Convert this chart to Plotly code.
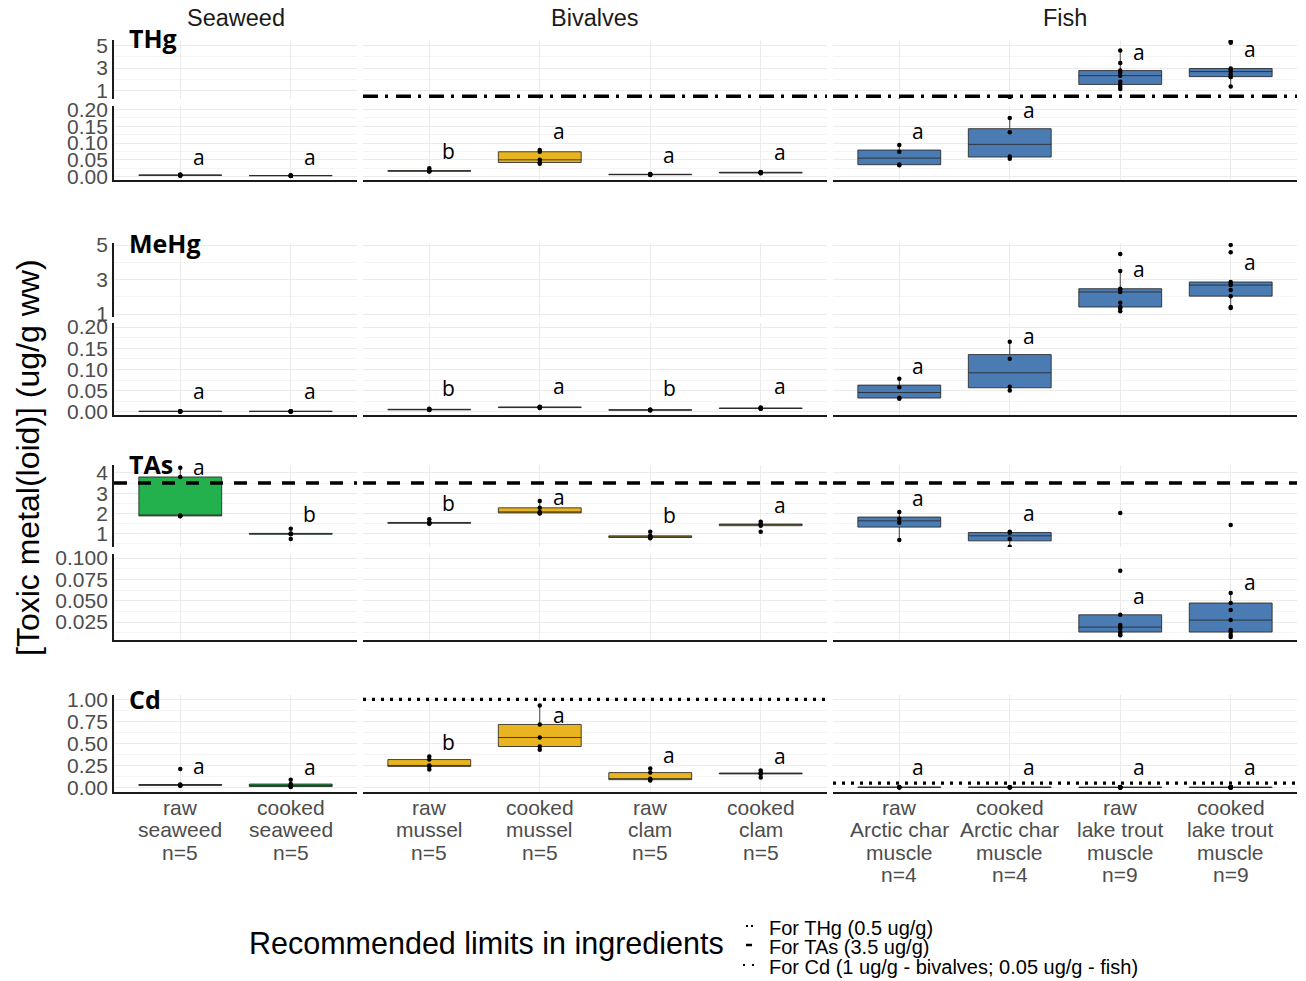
import numpy as np
import plotly.graph_objects as go

# ---------------- data ----------------
column_titles = ["Seaweed", "Bivalves", "Fish"]
column_sizes = [2, 4, 4]
category_labels = [
    ["raw", "seaweed", "n=5"],
    ["cooked", "seaweed", "n=5"],
    ["raw", "mussel", "n=5"],
    ["cooked", "mussel", "n=5"],
    ["raw", "clam", "n=5"],
    ["cooked", "clam", "n=5"],
    ["raw", "Arctic char", "muscle", "n=4"],
    ["cooked", "Arctic char", "muscle", "n=4"],
    ["raw", "lake trout", "muscle", "n=9"],
    ["cooked", "lake trout", "muscle", "n=9"],
]
metal_names = ["THg", "MeHg", "TAs", "Cd"]

thg_points = [
    [0.003, 0.004, 0.004, 0.005, 0.006],
    [0.002, 0.003, 0.003, 0.003, 0.004],
    [0.015, 0.016, 0.017, 0.018, 0.025],
    [0.038, 0.042, 0.050, 0.074, 0.079],
    [0.005, 0.006, 0.006, 0.007, 0.008],
    [0.010, 0.011, 0.012, 0.013, 0.014],
    [0.034, 0.036, 0.074, 0.094],
    [0.053, 0.060, 0.132, 0.174],
    [1.15, 1.35, 1.55, 1.80, 2.33, 2.60, 2.78, 3.45, 4.55],
    [1.36, 2.20, 2.24, 2.45, 2.69, 2.85, 2.96, 5.25, 5.36],
]
mehg_points = [
    [0.0008, 0.001, 0.001, 0.0012, 0.0015],
    [0.0008, 0.001, 0.001, 0.0012, 0.0014],
    [0.004, 0.005, 0.005, 0.006, 0.007],
    [0.009, 0.010, 0.011, 0.011, 0.012],
    [0.003, 0.004, 0.004, 0.005, 0.005],
    [0.007, 0.008, 0.008, 0.009, 0.010],
    [0.031, 0.033, 0.058, 0.078],
    [0.050, 0.059, 0.125, 0.165],
    [1.17, 1.32, 1.41, 1.65, 2.28, 2.42, 2.47, 3.49, 4.48],
    [1.35, 1.41, 2.04, 2.39, 2.68, 2.80, 2.86, 4.59, 5.00],
]
tas_points = [
    [1.86, 1.88, 1.90, 3.80, 4.25],
    [0.75, 0.98, 1.00, 1.02, 1.25],
    [1.50, 1.52, 1.54, 1.56, 1.72],
    [2.00, 2.03, 2.08, 2.28, 2.62],
    [0.78, 0.82, 0.85, 0.90, 1.10],
    [1.10, 1.40, 1.45, 1.48, 1.60],
    [0.70, 1.54, 1.74, 2.08],
    [0.36, 0.75, 1.05, 1.10],
    [0.0095, 0.011, 0.0133, 0.0175, 0.0191, 0.0215, 0.0335, 0.085, 2.03],
    [0.0074, 0.0098, 0.0133, 0.0156, 0.0273, 0.039, 0.0473, 0.059, 1.44],
]
cd_points = [
    [0.020, 0.025, 0.030, 0.035, 0.210],
    [0.008, 0.012, 0.020, 0.040, 0.090],
    [0.205, 0.240, 0.250, 0.318, 0.352],
    [0.430, 0.466, 0.568, 0.716, 0.930],
    [0.080, 0.090, 0.100, 0.170, 0.216],
    [0.114, 0.155, 0.160, 0.165, 0.195],
    [0.002, 0.003, 0.004, 0.006],
    [0.002, 0.003, 0.004, 0.005],
    [0.001, 0.002, 0.002, 0.003, 0.003, 0.004, 0.004, 0.005, 0.006],
    [0.001, 0.002, 0.002, 0.003, 0.003, 0.003, 0.004, 0.005, 0.006],
]

thg_letters = ["a", "a", "b", "a", "a", "a", "a", "a", "a", "a"]
thg_letter_y = [0.059, 0.059, 0.076, 0.135, 0.065, 0.074, 0.135, 0.197, 4.47, 4.73]
mehg_letters = ["a", "a", "b", "a", "b", "a", "a", "a", "a", "a"]
mehg_letter_y = [0.048, 0.048, 0.057, 0.060, 0.057, 0.060, 0.109, 0.179, 3.61, 4.01]
tas_letters = ["a", "b", "b", "a", "b", "a", "a", "a", "a", "a"]
tas_letter_y = [4.30, 1.98, 2.52, 2.82, 1.93, 2.43, 2.77, 2.03, 0.0555, 0.0719]
cd_letters = ["a", "a", "b", "a", "a", "a", "a", "a", "a", "a"]
cd_letter_y = [0.24, 0.23, 0.52, 0.82, 0.375, 0.36, 0.23, 0.23, 0.23, 0.23]

thg_limit = 0.5
tas_limit = 3.5
cd_limit_bivalves = 1.0
cd_limit_fish = 0.05

legend_title = "Recommended limits in ingredients"
legend_labels = ["For THg (0.5 ug/g)", "For TAs (3.5 ug/g)",
                 "For Cd (1 ug/g - bivalves; 0.05 ug/g - fish)"]
y_title = "[Toxic metal(loid)] (ug/g ww)"

hg_upper_ticks = [1, 3, 5]
hg_upper_labels = ["1", "3", "5"]
hg_upper_minor = [2, 4]
hg_lower_ticks = [0, 0.05, 0.10, 0.15, 0.20]
hg_lower_labels = ["0.00", "0.05", "0.10", "0.15", "0.20"]
hg_lower_minor = [0.025, 0.075, 0.125, 0.175]
tas_upper_ticks = [1, 2, 3, 4]
tas_upper_labels = ["1", "2", "3", "4"]
tas_upper_minor = [0.5, 1.5, 2.5, 3.5]
tas_lower_ticks = [0.025, 0.05, 0.075, 0.10]
tas_lower_labels = ["0.025", "0.050", "0.075", "0.100"]
tas_lower_minor = [0.0125, 0.0375, 0.0625, 0.0875]
cd_ticks = [0, 0.25, 0.5, 0.75, 1.0]
cd_labels = ["0.00", "0.25", "0.50", "0.75", "1.00"]
cd_minor = [0.125, 0.375, 0.625, 0.875]

# ---------------- styling / layout ----------------
W, H = 1306, 981
TICK_FONT = "Liberation Sans, Arial, sans-serif"
LETTER_FONT = "Open Sans, sans-serif"
GRID = "#EBEBEB"
GRID_MINOR = "#F4F4F4"
AXIS = "#1A1A1A"
col_colors = ["#22B14C", "#EAB420", "#4A7CB3"]
col_px = [(114, 357), (363, 827), (833, 1297)]

panels = [
    dict(metal=0, top=40, bot=99, rng=[0.26, 5.49], ticks=hg_upper_ticks,
         labels=hg_upper_labels, minor=hg_upper_minor, base=False),
    dict(metal=0, top=106, bot=180, rng=[-0.01, 0.21], ticks=hg_lower_ticks,
         labels=hg_lower_labels, minor=hg_lower_minor, base=True),
    dict(metal=1, top=243, bot=317, rng=[0.83, 5.12], ticks=hg_upper_ticks,
         labels=hg_upper_labels, minor=hg_upper_minor, base=False),
    dict(metal=1, top=323, bot=415, rng=[-0.0075, 0.2095], ticks=hg_lower_ticks,
         labels=hg_lower_labels, minor=hg_lower_minor, base=True),
    dict(metal=2, top=465, bot=547, rng=[0.35, 4.39], ticks=tas_upper_ticks,
         labels=tas_upper_labels, minor=tas_upper_minor, base=False),
    dict(metal=2, top=554, bot=640, rng=[0.004, 0.1047], ticks=tas_lower_ticks,
         labels=tas_lower_labels, minor=tas_lower_minor, base=True),
    dict(metal=3, top=695, bot=792, rng=[-0.05, 1.05], ticks=cd_ticks,
         labels=cd_labels, minor=cd_minor, base=True),
]

metal_points = [thg_points, mehg_points, tas_points, cd_points]
metal_letters = [thg_letters, mehg_letters, tas_letters, cd_letters]
metal_letter_y = [thg_letter_y, mehg_letter_y, tas_letter_y, cd_letter_y]
metal_limits = {
    0: [None, thg_limit, thg_limit],
    2: [tas_limit, tas_limit, tas_limit],
    3: [None, cd_limit_bivalves, cd_limit_fish],
}
limit_dash = {0: "15px,7px,3px,8px", 2: "13px,11px", 3: "3px,6px"}
limit_width = {0: 3.5, 2: 3.5, 3: 3.2}
row_label_y = [38, 243.5, 464, 698.5]


def box_stats(v):
    a = np.sort(np.asarray(v, dtype=float))
    q1, med, q3 = np.percentile(a, [25, 50, 75])
    iqr = q3 - q1
    lo = a[a >= q1 - 1.5 * iqr].min()
    hi = a[a <= q3 + 1.5 * iqr].max()
    return q1, med, q3, lo, hi


def col_of(gi):
    start = 0
    for c, n in enumerate(column_sizes):
        if gi < start + n:
            return c, gi - start + 1
        start += n


def ax_names(k):
    return ("x" if k == 1 else f"x{k}", "y" if k == 1 else f"y{k}",
            "xaxis" if k == 1 else f"xaxis{k}", "yaxis" if k == 1 else f"yaxis{k}")


fig = go.Figure()
layout_axes = {}
shapes = []
annotations = []

for pi, p in enumerate(panels):
    for c in range(3):
        k = pi * 3 + c + 1
        xa, ya, xn, yn = ax_names(k)
        n = column_sizes[c]
        x0, x1 = col_px[c]
        layout_axes[xn] = dict(
            domain=[x0 / W, x1 / W], range=[0.4, n + 0.6], anchor=ya,
            tickmode="array", tickvals=list(range(1, n + 1)), showticklabels=False,
            showgrid=True, gridcolor=GRID, gridwidth=1, zeroline=False,
            showline=p["base"], linecolor=AXIS, linewidth=1.8, ticks="", fixedrange=True)
        layout_axes[yn] = dict(
            domain=[1 - p["bot"] / H, 1 - p["top"] / H], range=p["rng"], anchor=xa,
            tickmode="array", tickvals=p["ticks"], ticktext=p["labels"],
            showticklabels=(c == 0),
            tickfont=dict(family=TICK_FONT, size=21, color="#4D4D4D"),
            showgrid=True, gridcolor=GRID, gridwidth=1,
            minor=dict(tickvals=p["minor"], showgrid=True, gridcolor=GRID_MINOR,
                       gridwidth=0.8, ticks=""),
            zeroline=False, showline=(c == 0), linecolor=AXIS, linewidth=1.8,
            ticks="", ticklabelstandoff=0, fixedrange=True)

        start = sum(column_sizes[:c])
        for j in range(n):
            gi = start + j
            vals = metal_points[p["metal"]][gi]
            q1, med, q3, lo, hi = box_stats(vals)
            fig.add_trace(go.Box(
                x=[j + 1], q1=[q1], median=[med], q3=[q3], lowerfence=[lo],
                upperfence=[hi], width=0.75, orientation="v",
                fillcolor=col_colors[c], line=dict(color="rgba(40,40,40,0.85)", width=1),
                whiskerwidth=0, boxpoints=False, xaxis=xa, yaxis=ya,
                showlegend=False, hoverinfo="skip"))
            fig.add_trace(go.Scatter(
                x=[j + 1] * len(vals), y=vals, mode="markers",
                marker=dict(size=4.5, color="black"), cliponaxis=True,
                xaxis=xa, yaxis=ya, showlegend=False, hoverinfo="skip"))

        lim = metal_limits.get(p["metal"])
        if lim is not None and lim[c] is not None and p["rng"][0] <= lim[c] <= p["rng"][1]:
            shapes.append(dict(
                type="line", xref=f"{xa} domain", x0=0, x1=1, yref=ya,
                y0=lim[c], y1=lim[c],
                line=dict(color="black", width=limit_width[p["metal"]],
                          dash=limit_dash[p["metal"]])))

# letters
for m in range(4):
    mpanels = [pi for pi, p in enumerate(panels) if p["metal"] == m]
    for gi in range(10):
        c, j = col_of(gi)
        yv = metal_letter_y[m][gi]
        pi = mpanels[0]
        if len(mpanels) > 1 and yv < panels[mpanels[0]]["rng"][0]:
            pi = mpanels[1]
        xa, ya, _, _ = ax_names(pi * 3 + c + 1)
        annotations.append(dict(
            text=metal_letters[m][gi], x=j + 0.17, y=yv, xref=xa, yref=ya,
            showarrow=False, xanchor="center", yanchor="middle",
            font=dict(family=LETTER_FONT, size=21, color="black")))

# category labels (one annotation per line, below the Cd panel)
label_line_px = [807, 829.5, 852, 874.5]
for gi in range(10):
    c, j = col_of(gi)
    xa, _, _, _ = ax_names(6 * 3 + c + 1)
    for li, line in enumerate(category_labels[gi]):
        annotations.append(dict(
            text=line, x=j, y=1 - label_line_px[li] / H, xref=xa, yref="paper",
            showarrow=False, xanchor="center", yanchor="middle",
            font=dict(family=TICK_FONT, size=21, color="#4D4D4D")))

# column strip titles
for c, t in enumerate(column_titles):
    x0, x1 = col_px[c]
    annotations.append(dict(
        text=t, x=(x0 + x1) / 2 / W, y=1 - 18 / H, xref="paper", yref="paper",
        showarrow=False, xanchor="center", yanchor="middle",
        font=dict(family=TICK_FONT, size=23.5, color="#1A1A1A")))

# metal row labels
for m, name in enumerate(metal_names):
    annotations.append(dict(
        text=f"<b>{name}</b>", x=127 / W, y=1 - row_label_y[m] / H,
        xref="paper", yref="paper", showarrow=False, xanchor="left", yanchor="middle",
        font=dict(family=LETTER_FONT, size=25, color="black")))

# y title
annotations.append(dict(
    text=y_title, x=28 / W, y=1 - 458 / H, xref="paper", yref="paper",
    showarrow=False, textangle=-90, xanchor="center", yanchor="middle",
    font=dict(family=TICK_FONT, size=32, color="black")))

# legend
annotations.append(dict(
    text=legend_title, x=487 / W, y=1 - 943 / H, xref="paper", yref="paper",
    showarrow=False, xanchor="center", yanchor="middle",
    font=dict(family=TICK_FONT, size=30.5, color="black")))
legend_y_px = [928, 947, 967]
legend_key = [
    dict(x0=746, x1=753, dash="2px,3px", width=2),
    dict(x0=746, x1=752, dash="solid", width=2.5),
    dict(x0=743, x1=754, dash="2px,7px", width=2),
]
for i, lab in enumerate(legend_labels):
    annotations.append(dict(
        text=lab, x=767 / W, y=1 - legend_y_px[i] / H, xref="paper", yref="paper",
        showarrow=False, xanchor="left", yanchor="middle",
        font=dict(family=TICK_FONT, size=20, color="black")))
    kk = legend_key[i]
    yk = 1 - (legend_y_px[i] - 2) / H
    shapes.append(dict(type="line", xref="paper", yref="paper",
                       x0=kk["x0"] / W, x1=kk["x1"] / W, y0=yk, y1=yk,
                       line=dict(color="black", width=kk["width"], dash=kk["dash"])))

fig.update_layout(
    width=W, height=H, autosize=False,
    margin=dict(l=0, r=0, t=0, b=0),
    paper_bgcolor="white", plot_bgcolor="white",
    showlegend=False, template="none",
    shapes=shapes, annotations=annotations,
    **layout_axes)

fig.write_html("out.html", config={"displayModeBar": False},
               post_script="document.body.style.margin='0px';"
                           "document.body.style.overflow='hidden';")
